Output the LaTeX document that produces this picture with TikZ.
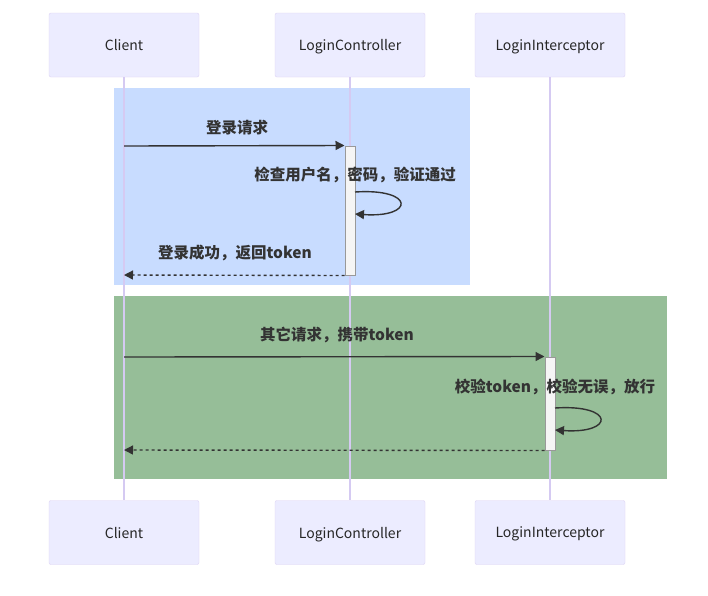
\documentclass[tikz,border=0pt]{standalone}
\usepackage{fontspec}
\setmainfont{Noto Sans CJK SC}
\usepackage{tikz}
\usetikzlibrary{arrows.meta}
\definecolor{actorfill}{HTML}{ECECFF}
\definecolor{actorline}{HTML}{DDD3F3}
\definecolor{lifeline}{HTML}{D5CAF2}
\definecolor{loginbg}{HTML}{C8DCFF}
\definecolor{tokenbg}{HTML}{96BE98}
\definecolor{msgtext}{HTML}{333333}
\tikzstyle{actor} = [draw=actorline, fill=actorfill, rounded corners=2pt, minimum width=150pt, minimum height=64pt, font=\fontsize{14}{16}\selectfont, text=black!85, text depth=0pt]
\tikzstyle{actbar} = [draw=black!40, fill=black!4, minimum width=10pt, inner sep=0pt, line width=1pt]
\tikzstyle{msg} = [-{Triangle[length=9pt,width=9pt]}, draw=msgtext, line width=1.4pt]
\tikzstyle{reply} = [msg, dash pattern=on 3pt off 3pt]
\tikzstyle{msglabel} = [font=\fontsize{15.5}{17}\selectfont\bfseries, text=msgtext]

\begin{document}
\begin{tikzpicture}[x=1pt, y=-1pt, line cap=butt, line join=miter]
      \useasboundingbox[fill=white] (0,0) rectangle (708,595);
      % rect backgrounds
      \fill[loginbg] (114,88) rectangle (470,285);
      \fill[tokenbg] (114,296) rectangle (667,479);
      % participants
      \node[actor] (cltop) at (124,45) {Client};
      \node[actor] (lctop) at (350,45) {LoginController};
      \node[actor] (litop) at (550,45) {LoginInterceptor};
      \node[actor] (clbot) at (124,532.5) {Client};
      \node[actor] (lcbot) at (350,532.5) {LoginController};
      \node[actor] (libot) at (550,532.5) {LoginInterceptor};
      \draw[lifeline, line width=1.3pt] (cltop) -- (clbot);
      \draw[lifeline, line width=1.3pt] (lctop) -- (lcbot);
      \draw[lifeline, line width=1.3pt] (litop) -- (libot);
      % activations
      \node[actbar, minimum height=129pt] (act1) at (350,210.5) {};
      \node[actbar, minimum height=93pt] (act2) at (550,403.5) {};
      \coordinate (cl1) at (124,146);
      \coordinate (cl2) at (124,275);
      \coordinate (cl3) at (124,357);
      \coordinate (cl4) at (124,450);
      \coordinate (loop1a) at (355,192);
      \coordinate (loop1b) at (355,214);
      \coordinate (loop2a) at (555,408);
      \coordinate (loop2b) at (555,430);
      % messages
      \draw[msg] (cl1) -- (act1.north west);
      \draw (237,128) node[msglabel] {登录请求};
      \draw[msg] (loop1a) .. controls (415,188) and (415,218) .. (loop1b);
      \draw (355,175) node[msglabel] {检查用户名，密码，验证通过};
      \draw[reply] (act1.south west) -- (cl2);
      \draw (235,253) node[msglabel] {登录成功，返回token};
      \draw[msg] (cl3) -- (act2.north west);
      \draw (337,335) node[msglabel] {其它请求，携带token};
      \draw[msg] (loop2a) .. controls (615,404) and (615,434) .. (loop2b);
      \draw (555,387) node[msglabel] {校验token，校验无误，放行};
      \draw[reply] (act2.south west) -- (cl4);
    \end{tikzpicture}
\end{document}
